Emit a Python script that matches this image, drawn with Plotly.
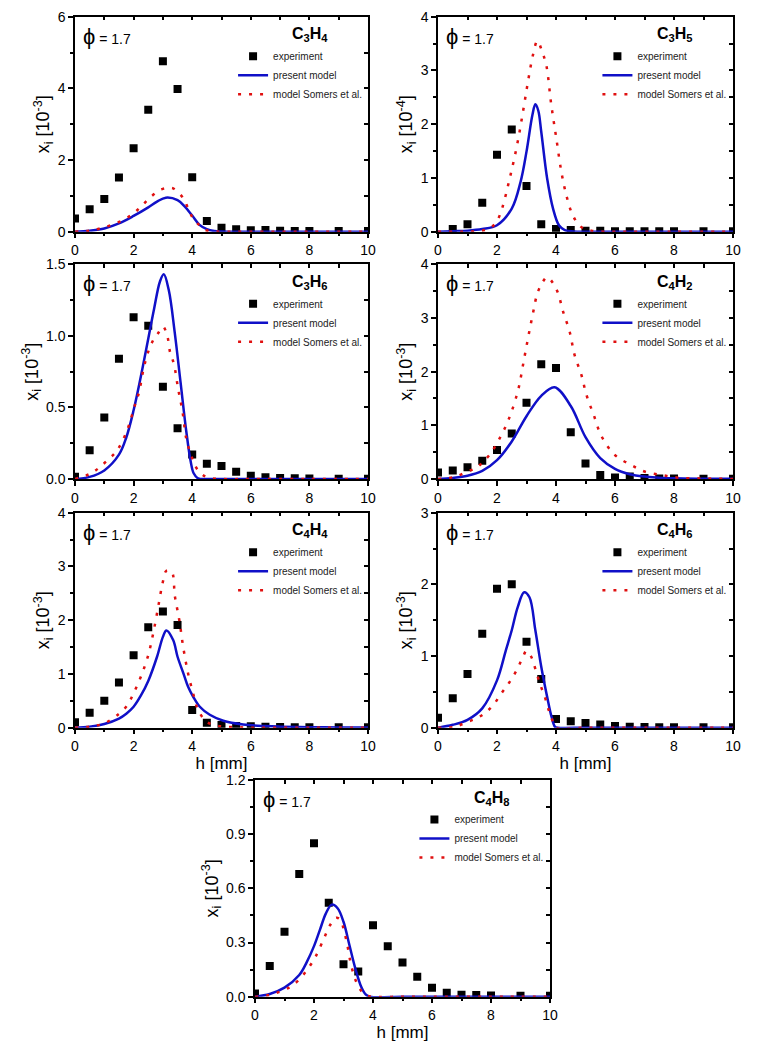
import plotly.graph_objects as go

# ---------------- data ----------------
H_EXP = [0, 0.5, 1, 1.5, 2, 2.5, 3, 3.5, 4, 4.5, 5, 5.5, 6, 6.5, 7, 7.5, 8, 9, 10]

# C3H4 [1e-3]
C3H4_EXP = [0.37, 0.63, 0.91, 1.51, 2.33, 3.40, 4.76, 3.98, 1.52, 0.30, 0.11, 0.07, 0.04, 0.05, 0.03, 0.02, 0.02, 0.02, 0.02]
C3H4_PRES_H = [0, 0.5, 1, 1.5, 2, 2.5, 2.8, 3.1, 3.5, 3.75, 4, 4.25, 4.5, 4.75, 5, 6, 8, 10]
C3H4_PRES = [0, 0.03, 0.09, 0.23, 0.44, 0.68, 0.84, 0.95, 0.88, 0.70, 0.45, 0.19, 0.07, 0.02, 0.005, 0, 0, 0]
C3H4_SOM_H = [0, 0.5, 0.85, 1.25, 1.65, 2.0, 2.3, 2.6, 2.95, 3.2, 3.35, 3.7, 3.86, 4.03, 4.26, 4.45, 4.7, 5, 6, 8, 10]
C3H4_SOM = [0, 0.03, 0.09, 0.19, 0.33, 0.51, 0.74, 0.98, 1.18, 1.22, 1.21, 0.93, 0.65, 0.37, 0.17, 0.05, 0.01, 0, 0, 0, 0]

# C3H5 [1e-4]
C3H5_EXP = [None, 0.05, 0.14, 0.54, 1.43, 1.90, 0.85, 0.14, 0.05, 0.03, 0.02, 0.02, 0.01, 0.01, 0.01, 0.01, 0.01, 0.01, 0.01]
C3H5_PRES_H = [0, 0.5, 1, 1.5, 2, 2.5, 2.8, 3.0, 3.2, 3.3, 3.4, 3.5, 3.7, 3.9, 4.1, 4.3, 4.6, 5, 6, 8, 10]
C3H5_PRES = [0, 0.01, 0.02, 0.05, 0.12, 0.43, 0.93, 1.49, 2.17, 2.37, 2.25, 1.86, 0.99, 0.43, 0.12, 0.03, 0.005, 0, 0, 0, 0]
C3H5_SOM_H = [0, 1, 1.5, 1.8, 2.0, 2.17, 2.43, 2.68, 2.88, 3.05, 3.22, 3.37, 3.53, 3.67, 3.84, 4.01, 4.18, 4.35, 4.52, 4.69, 4.92, 5.2, 5.6, 6, 8, 10]
C3H5_SOM = [0, 0.0, 0.02, 0.08, 0.2, 0.43, 0.99, 1.61, 2.23, 2.79, 3.29, 3.55, 3.35, 3.10, 2.36, 1.74, 1.12, 0.68, 0.37, 0.19, 0.06, 0.02, 0, 0, 0, 0]

# C3H6 [1e-3]
C3H6_EXP = [0.016, 0.20, 0.43, 0.84, 1.13, 1.07, 0.645, 0.354, 0.172, 0.107, 0.091, 0.051, 0.023, 0.012, 0.007, 0.005, 0.003, 0.002, 0.002]
C3H6_PRES_H = [0, 0.5, 1, 1.5, 1.75, 2, 2.3, 2.5, 2.7, 2.9, 3.03, 3.2, 3.4, 3.6, 3.8, 3.95, 4.05, 4.2, 4.5, 5, 6, 8, 10]
C3H6_PRES = [0, 0.015, 0.06, 0.17, 0.29, 0.48, 0.77, 0.98, 1.19, 1.38, 1.43, 1.32, 1.03, 0.68, 0.33, 0.12, 0.04, 0.005, 0, 0, 0, 0, 0]
C3H6_SOM_H = [0, 0.5, 0.8, 1.1, 1.42, 1.76, 2.05, 2.19, 2.33, 2.5, 2.67, 2.84, 3.0, 3.15, 3.24, 3.38, 3.52, 3.67, 3.8, 4.0, 4.15, 4.35, 4.55, 5, 6, 8, 10]
C3H6_SOM = [0, 0.035, 0.075, 0.13, 0.195, 0.33, 0.52, 0.61, 0.76, 0.89, 0.97, 1.02, 1.065, 1.0, 0.89, 0.8, 0.63, 0.47, 0.28, 0.145, 0.075, 0.03, 0.01, 0, 0, 0, 0]

# C4H2 [1e-3]
C4H2_EXP = [0.12, 0.16, 0.22, 0.34, 0.54, 0.85, 1.42, 2.14, 2.07, 0.87, 0.29, 0.075, 0.03, 0.045, 0.02, 0.01, 0.01, 0.005, 0.003]
C4H2_PRES_H = [0, 0.5, 1, 1.5, 2, 2.5, 3, 3.5, 3.95, 4.5, 5, 5.5, 6, 6.5, 7, 7.5, 8, 9, 10]
C4H2_PRES = [0, 0.02, 0.06, 0.15, 0.35, 0.70, 1.17, 1.55, 1.71, 1.36, 0.78, 0.39, 0.19, 0.09, 0.045, 0.025, 0.012, 0.005, 0.003]
C4H2_SOM_H = [0, 0.56, 1.0, 1.3, 1.53, 1.79, 2.03, 2.26, 2.49, 2.73, 2.88, 3.05, 3.22, 3.37, 3.56, 3.7, 3.9, 4.07, 4.24, 4.46, 4.63, 4.86, 5.03, 5.28, 5.54, 5.99, 6.55, 7.0, 7.57, 8.14, 9, 10]
C4H2_SOM = [0, 0.04, 0.14, 0.21, 0.32, 0.48, 0.70, 0.94, 1.25, 1.69, 2.12, 2.62, 3.09, 3.46, 3.68, 3.76, 3.65, 3.46, 3.12, 2.75, 2.31, 1.94, 1.57, 1.19, 0.80, 0.45, 0.26, 0.14, 0.075, 0.025, 0.01, 0]

# C4H4 [1e-3]
C4H4_EXP = [0.10, 0.28, 0.50, 0.84, 1.35, 1.87, 2.16, 1.91, 0.33, 0.09, 0.05, 0.03, 0.025, 0.02, 0.015, 0.01, 0.01, 0.01, 0.01]
C4H4_PRES_H = [0, 0.5, 1, 1.5, 1.75, 2, 2.25, 2.5, 2.8, 3.0, 3.12, 3.35, 3.5, 3.7, 3.86, 4.03, 4.26, 4.6, 5.06, 5.74, 6.5, 7, 8, 9, 10]
C4H4_PRES = [0, 0.02, 0.07, 0.17, 0.26, 0.39, 0.60, 0.87, 1.32, 1.69, 1.81, 1.63, 1.32, 1.01, 0.76, 0.58, 0.39, 0.24, 0.13, 0.06, 0.03, 0.02, 0.01, 0.005, 0.003]
C4H4_SOM_H = [0, 0.5, 1, 1.5, 1.76, 2.0, 2.27, 2.5, 2.67, 2.84, 2.99, 3.12, 3.3, 3.41, 3.56, 3.69, 3.86, 4.03, 4.2, 4.49, 4.77, 5.06, 5.5, 6, 8, 10]
C4H4_SOM = [0, 0.02, 0.08, 0.26, 0.40, 0.64, 0.98, 1.35, 1.76, 2.25, 2.69, 2.92, 2.90, 2.44, 2.0, 1.51, 1.01, 0.64, 0.33, 0.11, 0.05, 0.02, 0.01, 0, 0, 0]

# C4H6 [1e-3]
C4H6_EXP = [0.14, 0.41, 0.75, 1.31, 1.94, 2.00, 1.20, 0.68, 0.12, 0.09, 0.065, 0.045, 0.025, 0.015, 0.01, 0.008, 0.006, 0.005, 0.005]
C4H6_PRES_H = [0, 0.5, 1, 1.5, 2, 2.3, 2.5, 2.7, 2.92, 3.1, 3.3, 3.5, 3.7, 3.85, 3.97, 4.05, 5, 6, 8, 10]
C4H6_PRES = [0, 0.04, 0.11, 0.27, 0.66, 1.08, 1.36, 1.68, 1.89, 1.82, 1.36, 0.85, 0.43, 0.15, 0.01, 0, 0, 0, 0, 0]
C4H6_SOM_H = [0, 0.56, 0.93, 1.3, 1.58, 1.86, 2.15, 2.43, 2.69, 2.88, 3.0, 3.16, 3.3, 3.45, 3.62, 3.75, 3.9, 4.0, 5, 6, 8, 10]
C4H6_SOM = [0, 0.01, 0.07, 0.13, 0.2, 0.31, 0.48, 0.64, 0.82, 0.99, 1.07, 0.99, 0.82, 0.62, 0.43, 0.25, 0.08, 0, 0, 0, 0, 0]

# C4H8 [1e-3]
C4H8_EXP = [0.018, 0.17, 0.36, 0.68, 0.85, 0.52, 0.18, 0.14, 0.395, 0.28, 0.19, 0.11, 0.05, 0.022, 0.011, 0.009, 0.007, 0.005, 0.005]
C4H8_PRES_H = [0, 0.5, 1, 1.5, 1.75, 2, 2.2, 2.4, 2.6, 2.8, 3.0, 3.2, 3.4, 3.6, 3.75, 3.9, 5, 6, 8, 10]
C4H8_PRES = [0, 0.015, 0.05, 0.12, 0.19, 0.28, 0.37, 0.46, 0.51, 0.49, 0.415, 0.286, 0.157, 0.055, 0.013, 0, 0, 0, 0, 0]
C4H8_SOM_H = [0, 0.5, 0.85, 1.2, 1.48, 1.8, 2.05, 2.33, 2.56, 2.75, 2.9, 3.01, 3.13, 3.24, 3.39, 3.58, 3.75, 4, 5, 6, 8, 10]
C4H8_SOM = [0, 0.01, 0.028, 0.055, 0.092, 0.157, 0.22, 0.32, 0.40, 0.437, 0.425, 0.37, 0.286, 0.19, 0.10, 0.037, 0.01, 0, 0, 0, 0, 0]

SPECIES_LABELS = ["C<sub>3</sub>H<sub>4</sub>", "C<sub>3</sub>H<sub>5</sub>", "C<sub>3</sub>H<sub>6</sub>",
                  "C<sub>4</sub>H<sub>2</sub>", "C<sub>4</sub>H<sub>4</sub>", "C<sub>4</sub>H<sub>6</sub>",
                  "C<sub>4</sub>H<sub>8</sub>"]
Y_EXPONENTS = ["-3", "-4", "-3", "-3", "-3", "-3", "-3"]
Y_MAX = [6, 4, 1.5, 4, 4, 3, 1.2]
Y_DTICK = [2, 1, 0.5, 1, 1, 1, 0.3]
PHI_TEXT = "= 1.7"
SERIES_NAMES = ["experiment", "present model", "model Somers et al."]
X_TITLE = "h [mm]"

EXP_DATA = [C3H4_EXP, C3H5_EXP, C3H6_EXP, C4H2_EXP, C4H4_EXP, C4H6_EXP, C4H8_EXP]
PRES_DATA = [(C3H4_PRES_H, C3H4_PRES), (C3H5_PRES_H, C3H5_PRES), (C3H6_PRES_H, C3H6_PRES),
             (C4H2_PRES_H, C4H2_PRES), (C4H4_PRES_H, C4H4_PRES), (C4H6_PRES_H, C4H6_PRES),
             (C4H8_PRES_H, C4H8_PRES)]
SOM_DATA = [(C3H4_SOM_H, C3H4_SOM), (C3H5_SOM_H, C3H5_SOM), (C3H6_SOM_H, C3H6_SOM),
            (C4H2_SOM_H, C4H2_SOM), (C4H4_SOM_H, C4H4_SOM), (C4H6_SOM_H, C4H6_SOM),
            (C4H8_SOM_H, C4H8_SOM)]

# ---------------- layout geometry ----------------
W, H = 764, 1049
OFF = 8  # page body margin offset of the plot div
COLS = {"L": (75, 368), "R": (438, 733), "C": (255, 550)}
ROWS = [(16.7, 231.7), (264.3, 479), (512.7, 727.7), (780, 996.7)]
PANEL_POS = [("L", 0), ("R", 0), ("L", 1), ("R", 1), ("L", 2), ("R", 2), ("C", 3)]
SHOW_XTITLE = [False, False, False, False, True, True, True]

FONT = "Liberation Sans, Arial, sans-serif"
BLUE = "#1010C8"
RED = "#E01010"

fig = go.Figure()
layout = dict(
    width=W, height=H,
    margin=dict(l=0, r=0, t=0, b=0, autoexpand=False),
    paper_bgcolor="white", plot_bgcolor="white",
    font=dict(family=FONT, color="black", size=14),
    annotations=[],
)


def px_x(p):
    return (p - OFF) / W


def px_y(p):
    return 1 - (p - OFF) / H


for i in range(7):
    k = i + 1
    xs = "" if k == 1 else str(k)
    kk = str(k + 7)
    xname, yname = "x" + xs, "y" + xs
    x2name, y2name = "x" + kk, "y" + kk
    col, row = PANEL_POS[i]
    x0, x1 = COLS[col]
    yt, yb = ROWS[row]
    xdom = [px_x(x0), px_x(x1)]
    ydom = [px_y(yb), px_y(yt)]
    leg = "legend" if k == 1 else "legend%d" % k

    ph, pv = PRES_DATA[i]
    sh, sv = SOM_DATA[i]
    fig.add_trace(go.Scatter(x=H_EXP, y=EXP_DATA[i], mode="markers", name=SERIES_NAMES[0],
                             marker=dict(symbol="square", size=8, color="black"),
                             xaxis=xname, yaxis=yname, legend=leg))
    # present model drawn against the right-side (mirror) y axis, which has the same range
    fig.add_trace(go.Scatter(x=ph, y=pv, mode="lines", name=SERIES_NAMES[1],
                             line=dict(color=BLUE, width=2.5, shape="spline", smoothing=1.0),
                             xaxis=xname, yaxis=y2name, legend=leg))
    # Somers model drawn against the top (mirror) x axis, which has the same range
    fig.add_trace(go.Scatter(x=sh, y=sv, mode="lines", name=SERIES_NAMES[2],
                             line=dict(color=RED, width=2.5, dash="3px,8px", shape="spline", smoothing=1.0),
                             xaxis=x2name, yaxis=yname, legend=leg))

    common = dict(showgrid=False, zeroline=False, fixedrange=True, automargin=False,
                  showline=True, linewidth=1.5, linecolor="black", tickcolor="black", tickwidth=1.5)
    xa = dict(domain=xdom, anchor=yname, range=[0, 10], dtick=2, tick0=0, mirror=True,
              ticks="outside", ticklen=5,
              minor=dict(dtick=1, ticks="outside", ticklen=3, tickwidth=1.5, tickcolor="black"),
              tickfont=dict(size=14, family=FONT), **common)
    if SHOW_XTITLE[i]:
        xa["title"] = dict(text=X_TITLE, font=dict(size=17, family=FONT), standoff=1)
    ya = dict(domain=ydom, anchor=xname, range=[0, Y_MAX[i]], dtick=Y_DTICK[i], tick0=0, mirror=True,
              ticks="outside", ticklen=5,
              minor=dict(dtick=Y_DTICK[i] / 2, ticks="outside", ticklen=3, tickwidth=1.5, tickcolor="black"),
              tickfont=dict(size=14, family=FONT),
              title=dict(text="x<sub>i</sub> [10<sup>%s</sup>]" % Y_EXPONENTS[i],
                         font=dict(size=18, family=FONT), standoff=3), **common)
    if Y_DTICK[i] < 1:
        ya["tickformat"] = ".1f"
    layout["xaxis" + xs] = xa
    layout["yaxis" + xs] = ya

    # mirror axes (top / right) with inward ticks
    layout["xaxis" + kk] = dict(overlaying=xname, side="top", anchor=yname, range=[0, 10], dtick=1, tick0=0,
                                ticks="inside", ticklen=4, showticklabels=False, **common)
    layout["yaxis" + kk] = dict(overlaying=yname, side="right", anchor=xname, range=[0, Y_MAX[i]],
                                dtick=Y_DTICK[i] / 2, tick0=0,
                                ticks="inside", ticklen=4, showticklabels=False, **common)

    # legend
    leg_left = x0 + 0.676 * (x1 - x0) - 40
    leg_top = yt + 25
    layout[leg] = dict(x=px_x(leg_left), y=px_y(leg_top), xanchor="left", yanchor="top",
                       xref="paper", yref="paper",
                       bgcolor="rgba(0,0,0,0)", borderwidth=0, tracegroupgap=0,
                       font=dict(size=10, family=FONT, color="#222"), itemwidth=30)

    # species label and phi
    layout["annotations"].append(dict(xref=xname + " domain", yref=yname + " domain",
                                      x=0.87, y=0.915, xanchor="right", yanchor="middle",
                                      text="<b>" + SPECIES_LABELS[i] + "</b>", showarrow=False,
                                      font=dict(size=16, family=FONT, color="black")))
    layout["annotations"].append(dict(xref=xname + " domain", yref=yname + " domain",
                                      x=0.02, y=0.91, xanchor="left", yanchor="middle",
                                      text="<span style='font-size:22px'>ϕ</span> " + PHI_TEXT,
                                      showarrow=False, font=dict(size=14, family=FONT, color="black")))

fig.update_layout(**layout)
fig.write_html("out.html")
